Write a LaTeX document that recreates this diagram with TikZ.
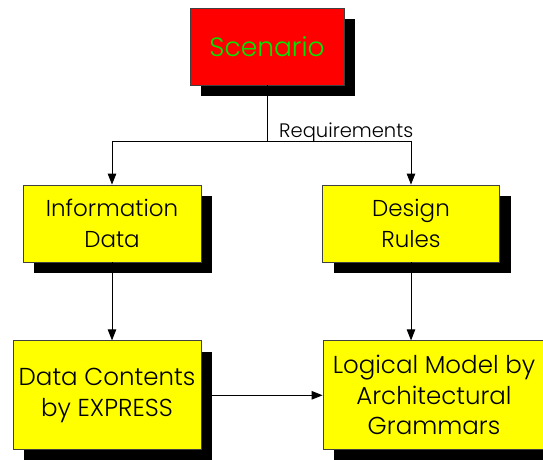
\documentclass[tikz,border=0pt]{standalone}
\usepackage{fontspec}
\setmainfont{Poppins}[UprightFont=* Light]
\usetikzlibrary{arrows.meta,shadows}
\definecolor{boxred}{RGB}{255,0,0}
\definecolor{boxyellow}{RGB}{255,255,0}
\definecolor{txtgreen}{RGB}{0,230,0}
\begin{document}
\begin{tikzpicture}[x=1pt,y=-1pt,
  box/.style={draw=black!75, line width=0.8pt, inner sep=0pt, align=center,
    font=\fontsize{23}{30.5}\selectfont,
    drop shadow={shadow xshift=11pt, shadow yshift=-11pt, opacity=1, fill=black}},
  bigbox/.style={box, font=\fontsize{24.5}{30.5}\selectfont},
  conn/.style={line width=0.9pt, -{Triangle[length=11pt,width=8.5pt]}},
  plain/.style={line width=0.9pt}]
\useasboundingbox[fill=white] (0,0) rectangle (543,459);
\node[box, fill=boxred, text=txtgreen, minimum width=154pt, minimum height=77pt,
  font=\fontsize{26.5}{31}\selectfont] (scen) at (267,46.5) {Scenario};
\node[box, fill=boxyellow, minimum width=178pt, minimum height=77pt] (info) at (112,223.5) {Information\\Data};
\node[box, fill=boxyellow, minimum width=177pt, minimum height=77pt] (design) at (411,223.5) {Design\\Rules};
\node[bigbox, fill=boxyellow, minimum width=188pt, minimum height=109pt] (datac) at (107,395.3) {Data Contents\\by EXPRESS};
\node[bigbox, fill=boxyellow, minimum width=222pt, minimum height=109pt] (logic) at (434,395.3) {Logical Model by\\Architectural\\Grammars};
\coordinate (j) at (267,141);
\draw[plain] (scen.south) -- (j);
\draw[conn] (j) -| (info.north);
\draw[conn] (j) -| (design.north);
\node[anchor=base west, inner sep=0pt, font=\fontsize{19.5}{22}\selectfont] (req) at (279,137) {Requirements};
\draw[conn] (info.south) -- (info.south |- datac.north);
\draw[conn] (design.south) -- (design.south |- logic.north);
\draw[conn] ([xshift=11pt]datac.east) -- (logic.west);
\end{tikzpicture}
\end{document}
